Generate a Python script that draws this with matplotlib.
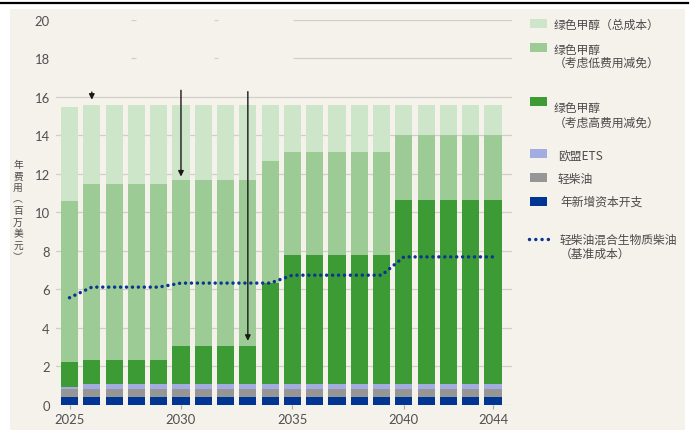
import matplotlib
matplotlib.use("Agg")
import matplotlib.pyplot as plt
from matplotlib.patches import Rectangle
from matplotlib.lines import Line2D

# ---- data (million USD per year) ----
years = [2025, 2026, 2027, 2028, 2029, 2030, 2031, 2032, 2033, 2034,
         2035, 2036, 2037, 2038, 2039, 2040, 2041, 2042, 2043, 2044]

capex = [0.42, 0.42, 0.42, 0.42, 0.42, 0.42, 0.42, 0.42, 0.42, 0.42,
         0.42, 0.42, 0.42, 0.42, 0.42, 0.42, 0.42, 0.42, 0.42, 0.42]
diesel = [0.40, 0.40, 0.40, 0.40, 0.40, 0.40, 0.40, 0.40, 0.40, 0.40,
          0.40, 0.40, 0.40, 0.40, 0.40, 0.40, 0.40, 0.40, 0.40, 0.40]
eu_ets = [0.12, 0.26, 0.26, 0.26, 0.26, 0.26, 0.26, 0.26, 0.26, 0.26,
          0.26, 0.26, 0.26, 0.26, 0.26, 0.26, 0.26, 0.26, 0.26, 0.26]

# total bar height for each green methanol scenario
meoh_high_relief = [2.22, 2.36, 2.36, 2.36, 2.36, 3.04, 3.04, 3.04, 3.04, 6.35,
                    7.78, 7.78, 7.78, 7.78, 7.78, 10.62, 10.62, 10.62, 10.62, 10.62]
meoh_low_relief = [10.57, 11.46, 11.46, 11.46, 11.46, 11.67, 11.67, 11.67, 11.67, 12.68,
                   13.15, 13.15, 13.15, 13.15, 13.15, 14.03, 14.03, 14.03, 14.03, 14.03]
meoh_total = [15.48, 15.60, 15.60, 15.60, 15.60, 15.60, 15.60, 15.60, 15.60, 15.60,
              15.60, 15.60, 15.60, 15.60, 15.60, 15.60, 15.60, 15.60, 15.60, 15.60]

baseline = [5.57, 6.12, 6.12, 6.12, 6.12, 6.33, 6.33, 6.33, 6.33, 6.33,
            6.74, 6.74, 6.74, 6.74, 6.74, 7.69, 7.69, 7.69, 7.69, 7.69]

xtick_years = [2025, 2030, 2035, 2040, 2044]
yticks = [0, 2, 4, 6, 8, 10, 12, 14, 16, 18, 20]

# arrows: (year, start value, end value)
arrows = [(2026, 16.25, 15.85), (2030, 16.34, 11.86), (2033, 16.27, 3.33)]

labels = ["绿色甲醇（总成本）", "绿色甲醇\n（考虑低费用减免）", "绿色甲醇\n（考虑高费用减免）",
          "欧盟ETS", "轻柴油", "年新增资本开支", "轻柴油混合生物质柴油\n（基准成本）"]
ylabel = "年费用︵百万美元︶"

# ---- colours ----
c_light = "#cde5c8"
c_mid = "#9dcb96"
c_dark = "#3d9b35"
c_ets = "#a3ace1"
c_diesel = "#969696"
c_capex = "#003594"
c_line = "#0a3590"
c_bg = "#f5f1eb"
c_grid = "#d3cec8"
c_text = "#4a4a4a"

CJK = ["Noto Sans CJK SC", "DejaVu Sans"]
plt.rcParams["font.family"] = ["Lato", "DejaVu Sans"]

W, H = 696, 439


def fx(x):
    return x / W


def fy(y):
    return 1 - y / H


fig = plt.figure(figsize=(W / 100, H / 100), dpi=100, facecolor="white")

# beige panel and the black rule on top
fig.patches.append(Rectangle((fx(10), fy(430.7)), (685 - 10) / W, (430.7 - 10) / H,
                             transform=fig.transFigure, facecolor=c_bg, edgecolor="none", zorder=-5))
fig.add_artist(Line2D([0, fx(688)], [fy(3.7), fy(3.7)], color="black", lw=1.6))

ax = fig.add_axes([fx(56), fy(406), (512 - 56) / W, (406 - 20.8) / H])
ax.set_facecolor("none")

# gridlines
for v in yticks[:-2]:
    ax.axhline(v, color=c_grid, lw=0.9, zorder=0)
for v in yticks[-2:]:
    ax.hlines(v, 2035.03, 2044.85, color=c_grid, lw=0.9, zorder=0)
    ax.hlines([v, v], [2027.78, 2031.46], [2028.0, 2031.68], color=c_grid, lw=0.9, zorder=0)

w = 0.77
ax.bar(years, meoh_total, w, color=c_light, zorder=2)
ax.bar(years, meoh_low_relief, w, color=c_mid, zorder=2)
ax.bar(years, meoh_high_relief, w, color=c_dark, zorder=2)
bottom_ets = [c + d for c, d in zip(capex, diesel)]
ax.bar(years, eu_ets, w, bottom=bottom_ets, color=c_ets, zorder=3)
ax.bar(years, diesel, w, bottom=capex, color=c_diesel, zorder=3)
ax.bar(years, capex, w, color=c_capex, zorder=3)

ax.plot(years, baseline, color=c_line, lw=2.5, linestyle=(0, (0.01, 1.7)),
        dash_capstyle="round", zorder=5)

for yr, y0, y1 in arrows:
    ax.annotate("", xy=(yr, y1), xytext=(yr, y0),
                arrowprops=dict(arrowstyle="-|>", color="#1a1a1a", lw=1.0,
                                mutation_scale=8, shrinkA=0, shrinkB=0),
                zorder=6)

ax.set_xlim(2024.394, 2044.85)
ax.set_ylim(0, 20)
ax.set_yticks(yticks)
ax.set_xticks(xtick_years)
ax.tick_params(axis="y", length=0, pad=4.5, labelsize=9.4, labelcolor="#505050")
ax.tick_params(axis="x", length=3, width=0.8, color="#aaaaaa", pad=2.5,
               labelsize=9.4, labelcolor="#505050")
for s in ax.spines.values():
    s.set_visible(False)

# vertical y-axis label, one character per line
for i, ch in enumerate(ylabel):
    fig.text(fx(18), fy(165 + i * 11.5), ch, family=CJK, fontsize=7,
             color=c_text, ha="center", va="center")

# legend, drawn by hand to keep the uneven spacing
patch_rows = [(24, c_light), (48, c_mid), (102.5, c_dark),
              (154.7, c_ets), (178.3, c_diesel), (202.8, c_capex)]
for yc, col in patch_rows:
    fig.patches.append(Rectangle((fx(529.5), fy(yc + 4.5)), 17 / W, 9 / H,
                                 transform=fig.transFigure, facecolor=col,
                                 edgecolor="none"))
fig.add_artist(Line2D([fx(528.5), fx(550)], [fy(240), fy(240)], color=c_line, lw=2.5,
                      linestyle=(0, (0.01, 1.8)), dash_capstyle="round"))

text_rows = [(554, [25]), (554, [50, 63.5]), (554, [108.5, 123.5]),
             (558, [156.7]), (558, [179.3]), (560, [202.3]), (560, [240, 254])]
for (x0, ys), lab in zip(text_rows, labels):
    for yy, line in zip(ys, lab.split("\n")):
        fig.text(fx(x0), fy(yy), line, family=CJK, fontsize=8.5, color=c_text,
                 ha="left", va="center")

fig.savefig("out.png", dpi=100, facecolor="white")
